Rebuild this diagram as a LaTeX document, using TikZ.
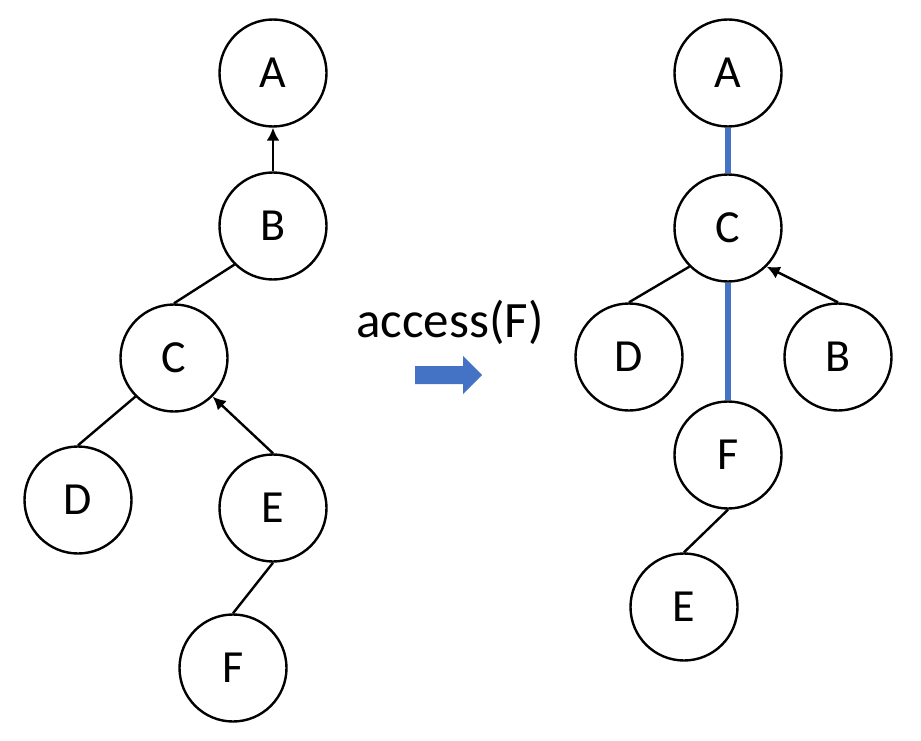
\documentclass[tikz,border=0pt]{standalone}
\usepackage{fontspec}
\setmainfont{Carlito}
\usetikzlibrary{arrows.meta}
\definecolor{accblue}{RGB}{68, 114, 196}

\begin{document}
\begin{tikzpicture}[x=1pt, y=-1pt,
                    >={Latex[length=13pt,width=13pt]},
                    vertex/.style={circle, draw, line width=2.4pt, minimum size=107pt,
                                   inner sep=0pt, font=\fontsize{46}{50}\selectfont},
                    edge/.style={line width=2.4pt},
                    splay/.style={accblue, line width=6.5pt}]

    \useasboundingbox (0,0) rectangle (921,741);

    % ==========================================================
    % arbol antes del acceso
    % ==========================================================
    \foreach \n/\x/\y in {A/273/73, B/273/226, C/174/358,
                          D/78/500, E/273/508, F/233/668} {
        \node[vertex] (l\n) at (\x,\y) {\n};
    }

    \draw[edge, ->] (lB) -- (lA);
    \draw[edge] (lB.south west) -- (lC.north);
    \draw[edge] (lC.south west) -- (lD.north);
    \draw[edge, ->] (lE.north) -- (lC.south east);
    \draw[edge] (lE.south) -- (lF.north);

    % ==========================================================
    % operacion
    % ==========================================================
    \node[font=\fontsize{51}{55}\selectfont] (op) at (450,322) {access(F)};
    \fill[accblue] (415,366) -- (463,366) -- (463,356) -- (482,375)
                   -- (463,394) -- (463,384) -- (415,384) -- cycle;

    % ==========================================================
    % arbol despues del acceso
    % ==========================================================
    \foreach \n/\x/\y in {A/728/73, C/728/228, D/629/357,
                          B/838/357, F/728/455, E/684/607} {
        \node[vertex] (r\n) at (\x,\y) {\n};
    }

    \draw[splay] (rA) -- (rC);
    \draw[splay] (rC) -- (rF);
    \draw[edge] (rC.south west) -- (rD.north);
    \draw[edge, ->] (rB.north) -- (rC.south east);
    \draw[edge] (rF.south) -- (rE.north);

\end{tikzpicture}
\end{document}
